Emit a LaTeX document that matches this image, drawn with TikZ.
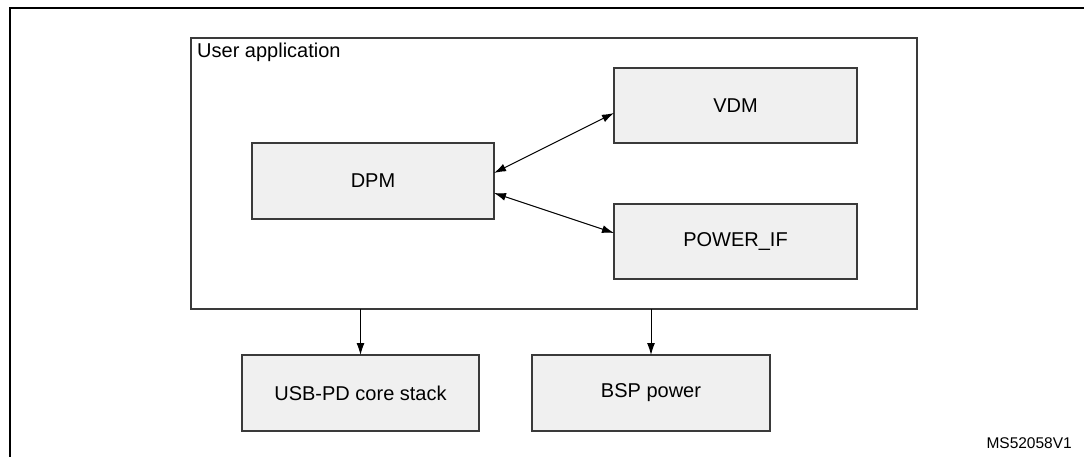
\documentclass[tikz,border=0pt]{standalone}
\usepackage{fontspec}
\setmainfont{Liberation Sans}
\usetikzlibrary{arrows.meta,calc}
\definecolor{boxfill}{HTML}{F0F0F0}
\definecolor{boxline}{HTML}{3A3A3A}
\tikzset{
  blockbox/.style={draw=boxline, line width=1.3pt, fill=boxfill, outer sep=0pt, inner sep=0pt,
    font=\fontsize{20}{24}\selectfont},
  appbox/.style={draw=boxline, line width=1.3pt, fill=white, outer sep=0pt, inner sep=0pt},
  conn/.style={line width=1pt, -{Latex[length=12pt,width=8pt]}},
  biconn/.style={line width=1pt, {Latex[length=12pt,width=8pt]}-{Latex[length=12pt,width=8pt]}},
}
\begin{document}
\begin{tikzpicture}[x=1pt,y=-1pt]
\useasboundingbox (0,0) rectangle (1084,457);
\draw[line width=2.2pt] (10,457) -- (10,8) -- (1084,8);
\node[appbox, minimum width=726pt, minimum height=271pt] (app) at (554,173.5) {};
\node[anchor=north west, inner sep=0pt, font=\fontsize{20}{24}\selectfont] (applbl) at (197,43) {User application};
\node[blockbox, minimum width=242pt, minimum height=76pt] (dpm) at (373,181) {DPM};
\node[blockbox, minimum width=243pt, minimum height=75pt] (vdm) at (735.5,105.5) {VDM};
\node[blockbox, minimum width=243pt, minimum height=75pt] (pwr) at (735.5,241.5) {POWER\_IF};
\node[blockbox, minimum width=237pt, minimum height=76pt] (usb) at (360.5,393) {USB-PD core stack};
\node[blockbox, minimum width=238pt, minimum height=76pt] (bsp) at (651,393) {BSP power};
\draw[biconn] ($(dpm.east)+(0,-8)$) -- ($(vdm.west)+(0,7.5)$);
\draw[biconn] ($(dpm.east)+(0,12)$) -- ($(pwr.west)+(0,-8.5)$);
\draw[conn] (app.south -| usb.north) -- (usb.north);
\draw[conn] (app.south -| bsp.north) -- (bsp.north);
\node[anchor=east, inner sep=0pt, font=\fontsize{15.5}{18}\selectfont] (ref) at (1072,443) {MS52058V1};
\end{tikzpicture}
\end{document}
